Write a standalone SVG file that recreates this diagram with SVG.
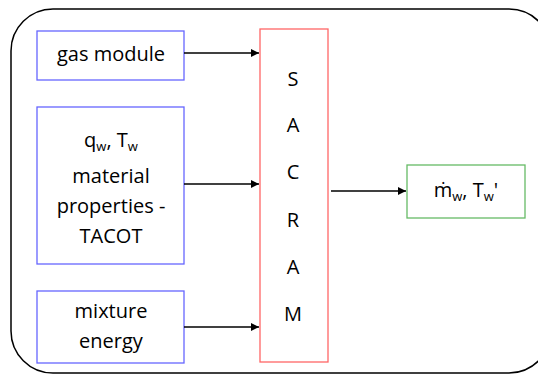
<svg xmlns="http://www.w3.org/2000/svg" width="538" height="376" viewBox="0 0 538 376">
<style>
text{font-family:"Open Sans","Liberation Sans",sans-serif;font-size:20px;fill:#000;text-anchor:middle}
.sub{font-size:13px}
.in{fill:#fff;stroke:#6666ff;stroke-width:1.3}
.line{stroke:#000;stroke-width:1.3;fill:none}
</style>
<defs>
<marker id="ah" viewBox="0 0 10 10" refX="10" refY="5" markerWidth="10" markerHeight="8" markerUnits="userSpaceOnUse" orient="auto">
<path d="M0,0 L10,5 L0,10 z" fill="#000"/>
</marker>
</defs>
<rect x="11" y="9" width="540" height="364" rx="42" ry="42" fill="#fff" stroke="#000" stroke-width="1.5"/>
<g id="gas">
<rect class="in" x="37" y="31" width="147" height="49"/>
<text x="111" y="61">gas module</text>
</g>
<g id="material">
<rect class="in" x="37" y="107" width="147" height="157"/>
<text x="111" y="147">q<tspan class="sub" dy="4">w</tspan><tspan dy="-4">, T</tspan><tspan class="sub" dy="4">w</tspan></text>
<text x="111" y="183">material</text>
<text x="111" y="213">properties -</text>
<text x="111" y="243">TACOT</text>
</g>
<g id="mixture">
<rect class="in" x="37" y="291" width="147" height="72"/>
<text x="111" y="318">mixture</text>
<text x="111" y="348">energy</text>
</g>
<g id="sacram">
<rect x="260" y="29" width="68" height="333" fill="#fff" stroke="#ff6666" stroke-width="1.3"/>
<text x="293" y="86">S</text>
<text x="293" y="132">A</text>
<text x="293" y="179">C</text>
<text x="293" y="227">R</text>
<text x="293" y="274">A</text>
<text x="293" y="321">M</text>
</g>
<g id="output">
<rect x="407" y="165" width="118" height="53" fill="#fff" stroke="#66bb66" stroke-width="1.3"/>
<text x="466" y="197">ṁ<tspan class="sub" dy="4">w</tspan><tspan dy="-4">, T</tspan><tspan class="sub" dy="4">w</tspan><tspan dy="-4">'</tspan></text>
</g>
<g id="connectors">
<line class="line" x1="184" y1="53" x2="259" y2="53" marker-end="url(#ah)"/>
<line class="line" x1="184" y1="184" x2="259" y2="184" marker-end="url(#ah)"/>
<line class="line" x1="184" y1="327" x2="259" y2="327" marker-end="url(#ah)"/>
<line class="line" x1="331" y1="191" x2="406" y2="191" marker-end="url(#ah)"/>
</g>
</svg>
